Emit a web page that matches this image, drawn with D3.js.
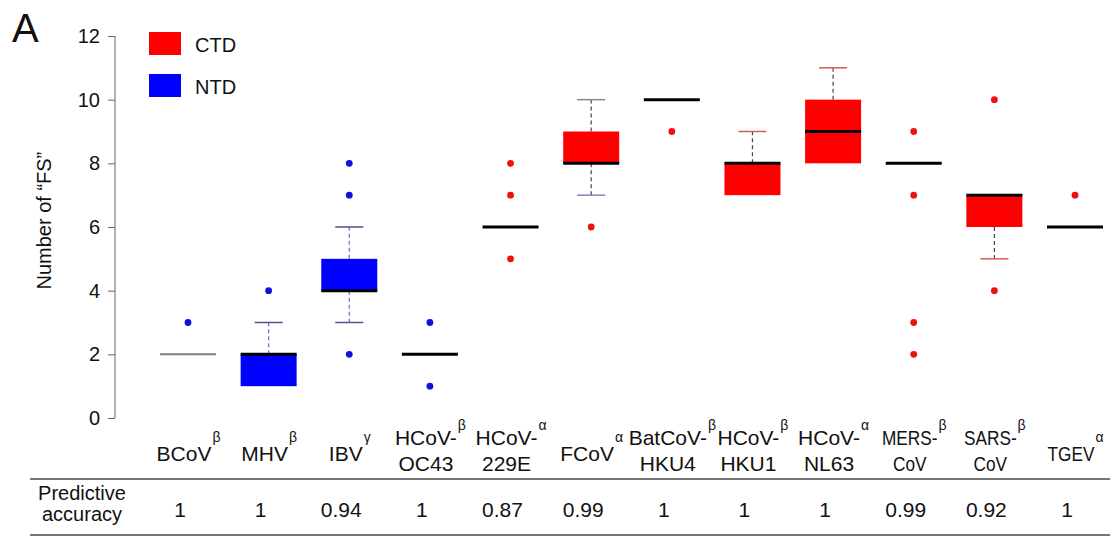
<!DOCTYPE html>
<html>
<head>
<meta charset="utf-8">
<script src="https://cdn.jsdelivr.net/npm/d3@7"></script>
<style>
  body { margin: 0; background: #fff; }
  svg text { font-family: "Liberation Sans", Arial, sans-serif; fill: #111; }
</style>
</head>
<body>
<svg width="1110" height="536"></svg>
<script>
// chart values
var categories = ["BCoV", "MHV", "IBV", "HCoV-OC43", "HCoV-229E", "FCoV",
    "BatCoV-HKU4", "HCoV-HKU1", "HCoV-NL63", "MERS-CoV", "SARS-CoV", "TGEV"];
var labelLines = [["BCoV"], ["MHV"], ["IBV"], ["HCoV-", "OC43"], ["HCoV-", "229E"], ["FCoV"],
    ["BatCoV-", "HKU4"], ["HCoV-", "HKU1"], ["HCoV-", "NL63"], ["MERS-", "CoV"], ["SARS-", "CoV"], ["TGEV"]];
var genus = ["β", "β", "γ", "β", "α", "α", "β", "β", "α", "β", "β", "α"];
var domain = ["NTD", "NTD", "NTD", "NTD", "CTD", "CTD", "CTD", "CTD", "CTD", "CTD", "CTD", "CTD"];

var q1 =       [2, 1, 4, 2, 6, 8, 10, 7, 8, 8, 6, 6];
var median =   [2, 2, 4, 2, 6, 8, 10, 8, 9, 8, 7, 6];
var q3 =       [2, 2, 5, 2, 6, 9, 10, 8, 10, 8, 7, 6];
var whiskLo =  [2, 1, 3, 2, 6, 7, 10, 7, 8, 8, 5, 6];
var whiskHi =  [2, 3, 6, 2, 6, 10, 10, 9, 11, 8, 7, 6];
var outliers = [[3], [4], [8, 7, 2], [3, 1], [8, 7, 5], [6], [9], [], [], [9, 7, 3, 2], [10, 4], [7]];

var accuracy = ["1", "1", "0.94", "1", "0.87", "0.99", "1", "1", "1", "0.99", "0.92", "1"];
var yTicks = [0, 2, 4, 6, 8, 10, 12];
var legendKeys = ["CTD", "NTD"];

var fill = { CTD: "#ff0000", NTD: "#0000ff" };
var dotColor = { CTD: "#ee1111", NTD: "#1111dd" };
// the last labels are set in a narrower face in the figure
var narrow = ["MERS-CoV", "SARS-CoV", "TGEV"];

var svg = d3.select("svg");

var x = d3.scalePoint()
    .domain(categories)
    .range([188, 1075]);

var y = d3.scaleLinear()
    .domain([0, 12])
    .range([418, 36]);

var boxW = 56;

// text helper, sx squeezes the glyphs horizontally
function label(px, py, str, size, sx, anchor) {
    return svg.append("text")
        .attr("transform", "translate(" + px + "," + py + ") scale(" + sx + ",1)")
        .attr("text-anchor", anchor || "start")
        .style("font-size", size + "px")
        .text(str);
}

// y axis
var yAxis = d3.axisLeft(y)
    .tickValues(yTicks)
    .tickSize(7)
    .tickPadding(8)
    .tickFormat(d3.format("d"));

var gY = svg.append("g")
    .attr("transform", "translate(115,0)")
    .call(yAxis);
gY.select(".domain").attr("stroke", "#666").attr("d", "M0," + y(12) + "V" + y(0));
gY.selectAll(".tick line").attr("stroke", "#666");
gY.selectAll(".tick text")
    .style("font-size", "20px")
    .style("font-family", "Liberation Sans, Arial, sans-serif")
    .attr("fill", "#111");

svg.append("text")
    .attr("transform", "translate(51," + y(6.2) + ") rotate(-90)")
    .attr("text-anchor", "middle")
    .style("font-size", "20px")
    .text("Number of \u201cFS\u201d");

svg.append("text")
    .attr("x", 12).attr("y", 42)
    .style("font-size", "40px")
    .text("A");

// boxes
var idx = d3.range(categories.length);
var g = svg.append("g");

idx.forEach(function(i) {
    var cx = x(categories[i]);
    var d = domain[i];
    var dashColor = d == "NTD" ? "#6a6ad0" : "#444";
    var capColor = d == "NTD" ? "#50508a" : "#e05555";

    // whiskers
    if (whiskHi[i] > q3[i]) {
        g.append("line")
            .attr("x1", cx).attr("x2", cx)
            .attr("y1", y(q3[i])).attr("y2", y(whiskHi[i]))
            .attr("stroke", dashColor).attr("stroke-width", 1.2)
            .attr("stroke-dasharray", "4,3");
        g.append("line")
            .attr("x1", cx - boxW / 4).attr("x2", cx + boxW / 4)
            .attr("y1", y(whiskHi[i])).attr("y2", y(whiskHi[i]))
            .attr("stroke", categories[i] == "FCoV" ? "#888" : capColor)
            .attr("stroke-width", 1.5);
    }
    if (whiskLo[i] < q1[i]) {
        g.append("line")
            .attr("x1", cx).attr("x2", cx)
            .attr("y1", y(q1[i])).attr("y2", y(whiskLo[i]))
            .attr("stroke", dashColor).attr("stroke-width", 1.2)
            .attr("stroke-dasharray", "4,3");
        g.append("line")
            .attr("x1", cx - boxW / 4).attr("x2", cx + boxW / 4)
            .attr("y1", y(whiskLo[i])).attr("y2", y(whiskLo[i]))
            .attr("stroke", categories[i] == "FCoV" ? "#8080d0" : capColor)
            .attr("stroke-width", 1.5);
    }

    if (q3[i] > q1[i]) {
        g.append("rect")
            .attr("x", cx - boxW / 2)
            .attr("y", y(q3[i]))
            .attr("width", boxW)
            .attr("height", y(q1[i]) - y(q3[i]))
            .attr("fill", fill[d]);
    }

    var flat = i == 0;
    g.append("line")
        .attr("x1", cx - boxW / 2).attr("x2", cx + boxW / 2)
        .attr("y1", y(median[i])).attr("y2", y(median[i]))
        .attr("stroke", flat ? "#808080" : "#000")
        .attr("stroke-width", flat ? 2 : 3);

    g.selectAll(null)
        .data(outliers[i])
        .enter().append("circle")
        .attr("cx", cx)
        .attr("cy", function(v) { return y(v); })
        .attr("r", 3.4)
        .attr("fill", dotColor[d]);
});

// legend
var leg = svg.append("g");
legendKeys.forEach(function(k, j) {
    leg.append("rect")
        .attr("x", 149).attr("y", 32 + j * 42)
        .attr("width", 32).attr("height", 23)
        .attr("fill", fill[k]);
    leg.append("text")
        .attr("x", 195).attr("y", 52 + j * 42)
        .style("font-size", "20px")
        .text(k);
});

// category labels with genus superscripts, centred as a whole under the box
idx.forEach(function(i) {
    var cx = x(categories[i]);
    var lines = labelLines[i];
    var sx = narrow.indexOf(categories[i]) >= 0 ? 0.82 : 1;
    var two = lines.length == 2;
    var base = two ? [445, 471] : [461];

    var first = label(0, 0, lines[0], 21, sx);
    var w = first.node().getComputedTextLength() * sx;
    var sup = label(0, 0, genus[i], 14, 1);
    var ws = sup.node().getComputedTextLength();
    var left = cx - (w + ws) / 2;

    first.attr("transform", "translate(" + left + "," + base[0] + ") scale(" + sx + ",1)");
    sup.attr("transform", "translate(" + (left + w + 1) + "," + (base[0] - (two ? 15 : 19)) + ")");
    if (two) label(left + w / 2, base[1], lines[1], 21, sx, "middle");
});

// accuracy table
svg.append("line")
    .attr("x1", 30).attr("x2", 1110)
    .attr("y1", 479).attr("y2", 479)
    .attr("stroke", "#777").attr("stroke-width", 2);
svg.append("line")
    .attr("x1", 30).attr("x2", 1110)
    .attr("y1", 535).attr("y2", 535)
    .attr("stroke", "#777").attr("stroke-width", 2);

svg.append("text")
    .attr("x", 82).attr("y", 500)
    .attr("text-anchor", "middle")
    .style("font-size", "20px")
    .text("Predictive");
svg.append("text")
    .attr("x", 82).attr("y", 521)
    .attr("text-anchor", "middle")
    .style("font-size", "20px")
    .text("accuracy");

svg.selectAll(".acc")
    .data(accuracy)
    .enter().append("text")
    .attr("class", "acc")
    .attr("x", function(d, i) { return x(categories[i]) - 8; })
    .attr("y", 517)
    .attr("text-anchor", "middle")
    .style("font-size", "21px")
    .text(function(d) { return d; });
</script>
</body>
</html>
